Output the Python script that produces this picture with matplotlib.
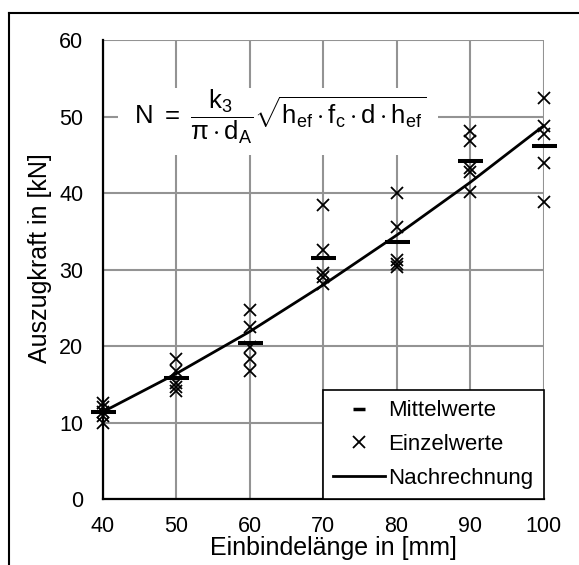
import matplotlib
matplotlib.use("Agg")
import matplotlib.pyplot as plt
from matplotlib.lines import Line2D
from matplotlib.patches import Rectangle

plt.rcParams['font.family'] = ['Liberation Sans', 'DejaVu Sans']
plt.rcParams['mathtext.fontset'] = 'custom'
plt.rcParams['mathtext.rm'] = 'Liberation Sans'
plt.rcParams['mathtext.it'] = 'Liberation Sans'
plt.rcParams['mathtext.bf'] = 'Liberation Sans:bold'

# embedment lengths in mm
lengths = [40, 50, 60, 70, 80, 90, 100]

# single test results in kN (five per length)
single_values = [
    [12.6, 12.0, 11.4, 10.9, 9.9],
    [18.3, 16.8, 15.2, 14.7, 14.2],
    [24.7, 22.5, 19.9, 18.3, 16.8],
    [38.4, 32.6, 29.6, 29.1, 28.1],
    [40.0, 35.6, 31.2, 30.8, 30.4],
    [48.1, 46.8, 43.3, 42.8, 40.2],
    [52.4, 48.8, 47.8, 43.9, 38.9],
]

# mean values in kN
mean_values = [11.4, 15.8, 20.4, 31.5, 33.6, 44.2, 46.2]

# recalculated pull-out force in kN
calc_values = [11.4, 16.4, 21.9, 28.0, 34.5, 41.4, 48.8]

fig = plt.figure(figsize=(5.79, 5.65), dpi=100)
ax = fig.add_axes([0.1774, 0.1166, 0.7613, 0.8122])

ax.plot(lengths, calc_values, color='k', lw=2, zorder=2, clip_on=False)
for x, vals in zip(lengths, single_values):
    ax.plot([x] * len(vals), vals, ls='none', marker='x', color='k',
            ms=9, mew=1.3, zorder=3, clip_on=False)
ax.plot(lengths, mean_values, ls='none', marker='_', color='k',
        ms=18, mew=2.9, zorder=4, clip_on=False)

ax.set_xlim(40, 100)
ax.set_ylim(0, 60)
ax.set_xticks(range(40, 101, 10))
ax.set_yticks(range(0, 61, 10))
ax.set_axisbelow(True)
ax.grid(True, color='#939393', lw=1.5)
ax.tick_params(length=0, labelsize=15.5)
ax.tick_params(axis='y', pad=14)
ax.tick_params(axis='x', pad=12)
for side in ['top', 'right']:
    ax.spines[side].set_visible(False)
for side in ['left', 'bottom']:
    ax.spines[side].set_linewidth(1.6)
    ax.spines[side].set_zorder(5)

ax.set_xlabel('Einbindelänge in [mm]', fontsize=18, labelpad=0)
ax.set_ylabel('Auszugkraft in [kN]', fontsize=18, labelpad=4)
ax.xaxis.set_label_coords(0.523, -0.08)
ax.yaxis.set_label_coords(-0.115, 0.526)

# white area behind the formula
ax.add_patch(Rectangle((42.1, 45.0), 43.5, 8.8, facecolor='white',
                       edgecolor='none', zorder=1))
ax.text(64.1, 50.0,
        r'$\mathrm{N}\ =\ \dfrac{\mathrm{k_3}}{\pi \cdot \mathrm{d_A}}'
        r'\sqrt{\mathrm{h_{ef}} \cdot \mathrm{f_c} \cdot \mathrm{d} \cdot \mathrm{h_{ef}}}$',
        fontsize=18.5, ha='center', va='center', zorder=2)

handles = [
    Line2D([], [], ls='none', marker='_', color='k', ms=9, mew=2.5),
    Line2D([], [], ls='none', marker='x', color='k', ms=9, mew=1.3),
    Line2D([], [], color='k', lw=2),
]
leg = ax.legend(handles, ['Mittelwerte', 'Einzelwerte', 'Nachrechnung'],
                loc='lower right', bbox_to_anchor=(1, 0), borderaxespad=0,
                fontsize=16, fancybox=False, framealpha=1, edgecolor='k',
                handlelength=2.35, handletextpad=0.15, labelspacing=0.58,
                borderpad=0.45)
leg.get_frame().set_linewidth(1.2)
leg.set_zorder(6)

# outer border around the chart
fig.add_artist(Line2D([9.3 / 579, 1.0], [1 - 12.7 / 565] * 2, color='k',
                      lw=1.5, transform=fig.transFigure))
fig.add_artist(Line2D([9.3 / 579] * 2, [0.0, 1 - 12.7 / 565], color='k',
                      lw=1.5, transform=fig.transFigure))

fig.savefig('out.png', dpi=100)
plt.close(fig)
